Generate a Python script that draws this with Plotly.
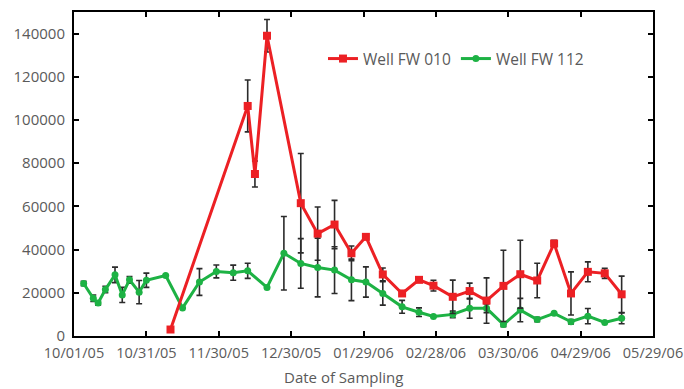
import plotly.graph_objects as go

# Well FW 010 (red)
red_dates = ["2005-11-10", "2005-12-12", "2005-12-15", "2005-12-20", "2006-01-03",
             "2006-01-10", "2006-01-17", "2006-01-24", "2006-01-30", "2006-02-06",
             "2006-02-14", "2006-02-21", "2006-02-27", "2006-03-07", "2006-03-14",
             "2006-03-21", "2006-03-28", "2006-04-04", "2006-04-11", "2006-04-18",
             "2006-04-25", "2006-05-02", "2006-05-09", "2006-05-16"]
red_values = [3000, 106500, 75000, 139000, 61500,
              47400, 51600, 38300, 45900, 28500,
              19700, 26000, 23300, 18150, 20800,
              16400, 23200, 28600, 25700, 42800,
              19700, 29700, 29000, 19300]
red_err = [0, 12000, 6000, 7500, 23000,
           12300, 11200, 3400, 800, 3000,
           1000, 0, 2500, 7700, 3700,
           10500, 16500, 15700, 8000, 1500,
           10000, 4600, 2300, 8400]

# Well FW 112 (green)
green_dates = ["2005-10-05", "2005-10-09", "2005-10-11", "2005-10-14", "2005-10-18",
               "2005-10-21", "2005-10-24", "2005-10-28", "2005-10-31", "2005-11-08",
               "2005-11-15", "2005-11-22", "2005-11-29", "2005-12-06", "2005-12-12",
               "2005-12-20", "2005-12-27", "2006-01-03", "2006-01-10", "2006-01-17",
               "2006-01-24", "2006-01-30", "2006-02-06", "2006-02-14", "2006-02-21",
               "2006-02-27", "2006-03-07", "2006-03-14", "2006-03-21", "2006-03-28",
               "2006-04-04", "2006-04-11", "2006-04-18", "2006-04-25", "2006-05-02",
               "2006-05-09", "2006-05-16"]
green_values = [24300, 17500, 15300, 21500, 28300,
                19000, 26000, 20300, 25800, 28000,
                13000, 25000, 29900, 29300, 30200,
                22500, 38300, 33600, 31700, 30500,
                26000, 25000, 19700, 13500, 11000,
                9000, 10000, 12800, 12800, 5300,
                12000, 7600, 10500, 6600, 9200,
                6300, 8200]
green_err = [1000, 1500, 1000, 1500, 3600,
             3500, 1500, 5400, 3300, 0,
             0, 6200, 3000, 3500, 3500,
             0, 17000, 11500, 13600, 10800,
             9600, 7000, 5400, 3000, 2000,
             0, 1500, 4600, 2000, 1000,
             5400, 1000, 0, 1000, 3500,
             0, 2500]

x_range = ["2005-10-01", "2006-05-29"]
y_range = [0, 150000]
x_title = "Date of Sampling"

RED = "#ec2024"
GREEN = "#1db244"
TXT = "#5a5a5a"
FONT = "Open Sans"

fig = go.Figure()
fig.add_trace(go.Scatter(
    x=green_dates, y=green_values, name="Well FW 112", mode="lines+markers",
    line=dict(color=GREEN, width=3), marker=dict(symbol="circle", size=7, color=GREEN),
    error_y=dict(type="data", array=green_err, visible=True, color="#2b2b2b", thickness=1.6, width=3),
    legendrank=2,
))
fig.add_trace(go.Scatter(
    x=red_dates, y=red_values, name="Well FW 010", mode="lines+markers",
    line=dict(color=RED, width=3), marker=dict(symbol="square", size=8, color=RED),
    error_y=dict(type="data", array=red_err, visible=True, color="#2b2b2b", thickness=1.6, width=3),
    legendrank=1,
))

axis_common = dict(showline=True, linecolor="black", linewidth=2, mirror="ticks",
                   ticks="inside", ticklen=5, tickwidth=1.5, tickcolor="black",
                   showgrid=False, zeroline=False, automargin=False,
                   ticklabeloverflow="allow")

fig.update_xaxes(type="date", range=x_range, tick0="2005-10-01", dtick=30 * 86400000,
                 tickformat="%m/%d/%y", ticklabelstandoff=3,
                 tickfont=dict(family=FONT, size=14.5, color=TXT),
                 **axis_common)
fig.update_yaxes(range=y_range, dtick=20000, tickformat="d", ticklabelstandoff=4,
                 tickfont=dict(family=FONT, size=15, color=TXT),
                 **axis_common)

fig.add_annotation(text=x_title, xref="paper", yref="paper", x=0.466, y=-0.128,
                   xanchor="center", yanchor="middle", showarrow=False,
                   font=dict(family=FONT, size=15, color=TXT))

fig.update_layout(
    width=684, height=389,
    margin=dict(l=74, r=31, t=12, b=53),
    paper_bgcolor="white", plot_bgcolor="white",
    font=dict(family=FONT, color=TXT),
    legend=dict(orientation="h", x=0.43, y=0.855, xanchor="left", yanchor="middle",
                bgcolor="rgba(0,0,0,0)", font=dict(family=FONT, size=15.5, color=TXT),
                itemwidth=30),
    showlegend=True,
)

fig.write_html("out.html", config={"displayModeBar": False},
               post_script="document.body.style.margin='0';")
